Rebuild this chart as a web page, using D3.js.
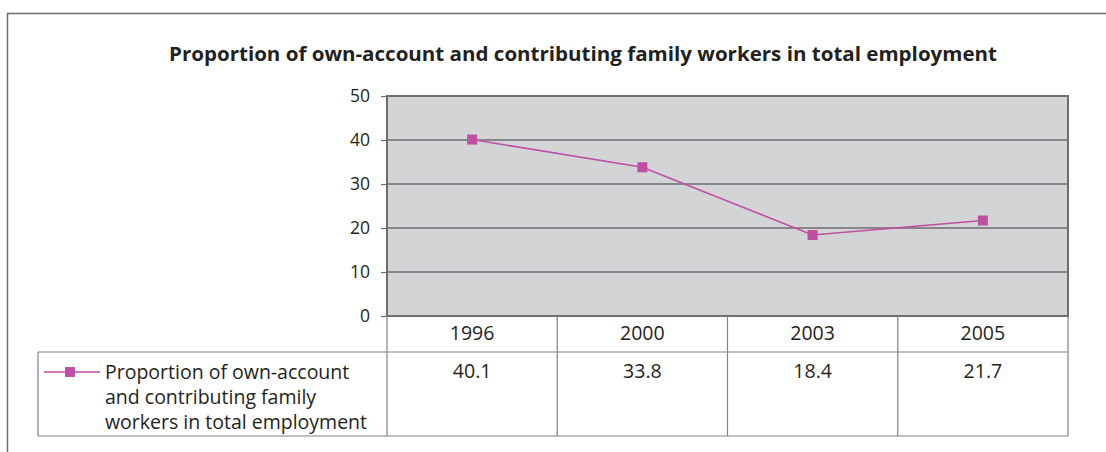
<!DOCTYPE html>
<html><head><meta charset="utf-8">
<script src="https://cdn.jsdelivr.net/npm/d3@7"></script>
<style>body{margin:0;background:#fff}svg{display:block}text{font-family:"Open Sans",sans-serif;fill:#231f20}</style>
</head><body>
<script>
const categories = ["1996","2000","2003","2005"];
const values = [40.1, 33.8, 18.4, 21.7];
const valueLabels = ["40.1","33.8","18.4","21.7"];
const yTicks = [0,10,20,30,40,50];
const seriesName = ["Proportion of own-account","and contributing family","workers in total employment"];
const title = "Proportion of own-account and contributing family workers in total employment";

const W=1106,H=452;
const svg=d3.select("body").append("svg").attr("width",W).attr("height",H);
const L=387,R=1068,T=96,B=316,row1=352,row2=436,legL=38;
const color="#bf4fa3";

// outer frame (top & left only visible)
svg.append("line").attr("x1",7).attr("x2",W).attr("y1",13.5).attr("y2",13.5).attr("stroke","#6d6e70").attr("stroke-width",1.5);
svg.append("line").attr("x1",7.5).attr("x2",7.5).attr("y1",13).attr("y2",H).attr("stroke","#6d6e70").attr("stroke-width",1.5);

svg.append("text").attr("x",583).attr("y",61).attr("text-anchor","middle")
  .attr("font-weight","bold").attr("font-size",20).attr("textLength",828).attr("lengthAdjust","spacingAndGlyphs").text(title);

const x=d3.scaleBand().domain(categories).range([L,R]);
const y=d3.scaleLinear().domain([0,50]).range([B,T]);

svg.append("rect").attr("x",L).attr("y",T).attr("width",R-L).attr("height",B-T).attr("fill","#d3d4d6");

// gridlines
svg.append("g").selectAll("line").data(yTicks.filter(d=>d>0&&d<50)).join("line")
  .attr("x1",L).attr("x2",R).attr("y1",d=>y(d)).attr("y2",d=>y(d)).attr("stroke","#6d6e70").attr("stroke-width",1.5);

// y axis
const ya=svg.append("g").attr("transform",`translate(${L},0)`).call(d3.axisLeft(y).tickValues(yTicks).tickSize(6).tickPadding(11));
ya.select(".domain").remove();
ya.selectAll(".tick line").attr("stroke","#6d6e70").attr("stroke-width",1.2);
ya.selectAll(".tick text").attr("font-size",17.5).attr("font-family","Open Sans").attr("fill","#231f20").attr("dy","0.3em");

// plot border
svg.append("rect").attr("x",L).attr("y",T).attr("width",R-L).attr("height",B-T).attr("fill","none").attr("stroke","#6d6e70").attr("stroke-width",2);

// line
const pts=categories.map((c,i)=>[x(c)+x.bandwidth()/2,y(values[i])]);
svg.append("path").attr("d",d3.line()(pts)).attr("fill","none").attr("stroke",color).attr("stroke-width",1.6);
svg.append("g").selectAll("rect").data(pts).join("rect")
  .attr("x",d=>d[0]-5).attr("y",d=>d[1]-5).attr("width",10).attr("height",10).attr("fill",color);

// data table
const g=svg.append("g").attr("stroke","#808285").attr("stroke-width",1.2).attr("fill","none");
g.append("line").attr("x1",legL).attr("x2",R).attr("y1",row1).attr("y2",row1);
g.append("line").attr("x1",legL).attr("x2",R).attr("y1",row2).attr("y2",row2);
g.append("line").attr("x1",legL).attr("x2",legL).attr("y1",row1).attr("y2",row2);
g.append("line").attr("x1",R).attr("x2",R).attr("y1",B).attr("y2",row2);
g.selectAll(".v").data(categories).join("line").attr("class","v")
  .attr("x1",d=>x(d)).attr("x2",d=>x(d)).attr("y1",B).attr("y2",row2);

svg.append("g").selectAll("text").data(categories).join("text")
  .attr("x",d=>x(d)+x.bandwidth()/2).attr("y",340).attr("text-anchor","middle").attr("font-size",19.5).text(d=>d);
svg.append("g").selectAll("text").data(valueLabels).join("text")
  .attr("x",(d,i)=>x(categories[i])+x.bandwidth()/2).attr("y",378).attr("text-anchor","middle").attr("font-size",19.5).text(d=>d);

// legend
svg.append("line").attr("x1",44).attr("x2",100).attr("y1",372).attr("y2",372).attr("stroke",color).attr("stroke-width",1.6);
svg.append("rect").attr("x",65).attr("y",367).attr("width",10).attr("height",10).attr("fill",color);
svg.append("g").selectAll("text").data(seriesName).join("text")
  .attr("x",105).attr("y",(d,i)=>378.5+i*25).attr("font-size",19.5).text(d=>d);
</script>
</body></html>
